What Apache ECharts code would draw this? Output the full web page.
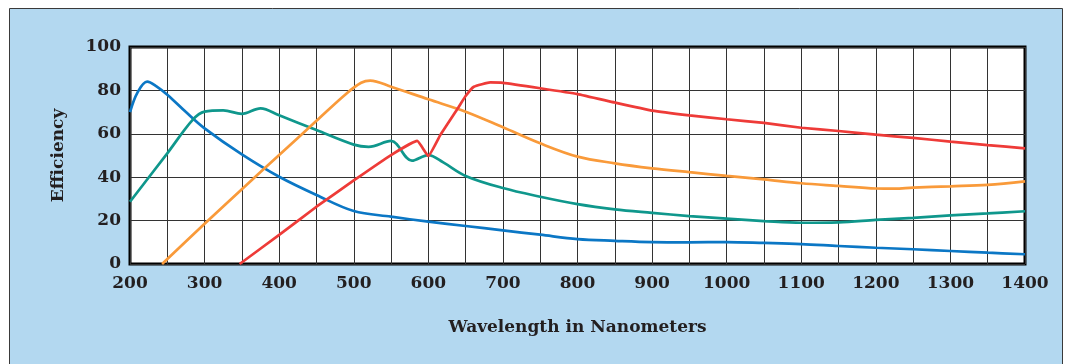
<!DOCTYPE html>
<html>
<head>
<meta charset="utf-8">
<script src="https://cdn.jsdelivr.net/npm/echarts@6/dist/echarts.min.js"></script>
<style>
body{margin:0;background:#fff;}
#chart{width:1068px;height:364px;}
</style>
</head>
<body>
<div id="chart"></div>
<script>
// wavelength (nm) / efficiency (%)
var blueNm  = [200,210,223,235,250,275,300,350,400,450,500,550,600,650,700,750,800,850,900,950,1000,1050,1100,1150,1200,1250,1300,1350,1400];
var blueEff = [70,79,84,82,78,70,62.5,50.5,40.2,31.8,24.4,21.8,19.5,17.5,15.5,13.5,11.5,10.7,10.1,10.0,10.1,9.7,9.2,8.3,7.5,6.8,6.0,5.2,4.5];

var tealNm  = [200,250,284,300,325,350,375,400,450,500,520,550,578,600,620,650,700,750,800,850,900,950,1000,1050,1100,1150,1200,1250,1300,1350,1400];
var tealEff = [28.7,51,66.4,70.2,70.8,69.2,71.7,68.5,61.7,55,54,56.7,47.6,50.2,46.8,40.6,35,31,27.6,25.2,23.6,22.1,20.9,19.8,19.0,19.2,20.3,21.3,22.4,23.3,24.3];

var orangeNm  = [243,300,350,400,450,490,510,522,550,600,650,700,750,800,850,900,950,1000,1050,1100,1150,1200,1225,1250,1300,1350,1400];
var orangeEff = [0,18.5,34.5,50.2,66,78.5,83.5,84.5,81.7,75.9,70.2,63,55.6,49.5,46.4,44.1,42.3,40.6,39,37.2,36,34.8,34.7,35.2,35.8,36.5,38.1];

var redNm  = [347,400,450,500,550,585,600,616,640,650,661,683,700,750,800,850,900,950,1000,1050,1100,1150,1200,1250,1300,1350,1400];
var redEff = [0,13.4,26.4,38.5,50.2,56.7,49.8,59.4,72,77.4,81.7,83.7,83.5,81,78.3,74.4,70.7,68.5,66.7,65,62.8,61.3,59.6,58.1,56.4,54.8,53.3];

function pairs(xs, ys){
    var out=[];
    for(var i=0;i<xs.length;i++) out.push([xs[i],ys[i]]);
    return out;
}

var font="DejaVu Serif";
var textColor="#231f20";

function line(name,color,xs,ys,smooth){
    return {
        name:name,
        type:"line",
        showSymbol:false,
        smooth:smooth,
        lineStyle:{color:color,width:2.7},
        data:pairs(xs,ys)
    };
}

var chart=echarts.init(document.getElementById("chart"));
var option={
    animation:false,
    backgroundColor:"#fff",
    graphic:[{
        type:"rect",
        z:-10,
        silent:true,
        shape:{x:9.5,y:8.5,width:1053,height:400},
        style:{fill:"#b3d8f0",stroke:"#3a3a3a",lineWidth:1}
    }],
    grid:{
        left:130,
        top:47,
        right:43,
        bottom:100,
        show:true,
        backgroundColor:"#fff",
        borderColor:"#000",
        borderWidth:3
    },
    xAxis:{
        type:"value",
        min:200,
        max:1400,
        interval:50,
        name:"Wavelength in Nanometers",
        nameLocation:"middle",
        nameGap:55,
        nameTextStyle:{fontFamily:font,fontWeight:"bold",fontSize:17,color:textColor},
        axisLine:{show:false},
        axisTick:{show:false},
        axisLabel:{
            fontFamily:font,fontWeight:"bold",fontSize:17,color:textColor,margin:11,
            showMaxLabel:true,showMinLabel:true,
            formatter:function(v){return v%100===0?String(v):"";}
        },
        splitLine:{show:true,lineStyle:{color:"#333",width:1}}
    },
    yAxis:{
        type:"value",
        min:0,
        max:100,
        interval:20,
        name:"Efficiency",
        nameLocation:"middle",
        nameGap:63,
        nameRotate:90,
        nameTextStyle:{fontFamily:font,fontWeight:"bold",fontSize:17,color:textColor},
        axisLine:{show:false},
        axisTick:{show:false},
        axisLabel:{fontFamily:font,fontWeight:"bold",fontSize:17,color:textColor,margin:9},
        splitLine:{show:true,lineStyle:{color:"#333",width:1}}
    },
    series:[
        line("blue","#0b77c5",blueNm,blueEff,0.35),
        line("teal","#0f978c",tealNm,tealEff,0.35),
        line("orange","#f99a3a",orangeNm,orangeEff,0.35),
        line("red","#ee3b38",redNm,redEff,0.12)
    ]
};
chart.setOption(option);
</script>
</body>
</html>
